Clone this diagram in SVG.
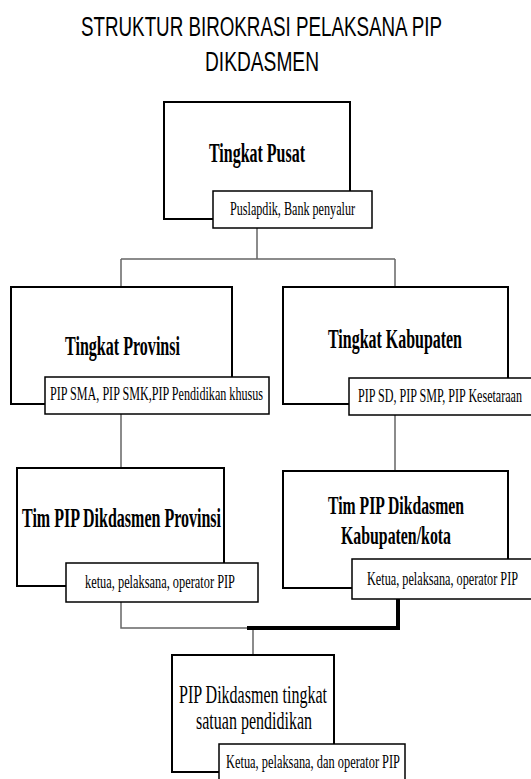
<svg xmlns="http://www.w3.org/2000/svg" width="531" height="779" viewBox="0 0 531 779">
<style>
.bg{fill:#fff}
.box{fill:#fff;stroke:#000;stroke-width:2}
.sub{fill:#fff;stroke:#000;stroke-width:1.5}
.con{fill:none;stroke:#666;stroke-width:1.5}
.thick{fill:none;stroke:#000;stroke-width:4}
.title{font-family:"Liberation Sans",Arial,sans-serif;font-size:27px;fill:#000}
.h{font-family:"Liberation Serif","Times New Roman",serif;font-size:28px;font-weight:bold;fill:#000}
.h2{font-family:"Liberation Serif","Times New Roman",serif;font-size:26px;font-weight:bold;fill:#000}
.hr{font-family:"Liberation Serif","Times New Roman",serif;font-size:26px;fill:#000}
.s{font-family:"Liberation Serif","Times New Roman",serif;font-size:18px;fill:#000}
</style>
<rect class="bg" x="0" y="0" width="531" height="779"/>
<g id="title">
<text class="title" x="81" y="36" textLength="361" lengthAdjust="spacingAndGlyphs">STRUKTUR BIROKRASI PELAKSANA PIP</text>
<text class="title" x="205" y="71" textLength="114" lengthAdjust="spacingAndGlyphs">DIKDASMEN</text>
</g>
<g id="connectors">
<path class="con" d="M257 228V259M121 259H395M121 259V287M395 259V287"/>
<path class="con" d="M121 414V468M395 415V471"/>
<path class="con" d="M121 602V628H249M253 628V655"/>
<path class="thick" d="M247 628H398V598"/>
</g>
<g id="pusat">
<rect class="box" x="164" y="102" width="186" height="117"/>
<text class="h" x="209" y="162" textLength="96" lengthAdjust="spacingAndGlyphs">Tingkat Pusat</text>
<rect class="sub" x="213" y="191" width="159" height="37"/>
<text class="s" x="230" y="215" textLength="125" lengthAdjust="spacingAndGlyphs">Puslapdik, Bank penyalur</text>
</g>
<g id="provinsi">
<rect class="box" x="11" y="287" width="221" height="117"/>
<text class="h" x="65" y="355" textLength="115" lengthAdjust="spacingAndGlyphs">Tingkat Provinsi</text>
<rect class="sub" x="45" y="377" width="224" height="37"/>
<text class="s" x="50" y="400" textLength="213" lengthAdjust="spacingAndGlyphs">PIP SMA, PIP SMK,PIP Pendidikan khusus</text>
</g>
<g id="kabupaten">
<rect class="box" x="283" y="287" width="225" height="117"/>
<text class="h" x="328" y="348" textLength="134" lengthAdjust="spacingAndGlyphs">Tingkat Kabupaten</text>
<rect class="sub" x="349" y="378" width="190" height="37"/>
<text class="s" x="358" y="402" textLength="164" lengthAdjust="spacingAndGlyphs">PIP SD, PIP SMP, PIP Kesetaraan</text>
</g>
<g id="tim-provinsi">
<rect class="box" x="17" y="468" width="207" height="118"/>
<text class="h" x="22" y="527" textLength="199" lengthAdjust="spacingAndGlyphs">Tim PIP Dikdasmen  Provinsi</text>
<rect class="sub" x="66" y="563" width="192" height="39"/>
<text class="s" x="85" y="588" textLength="150" lengthAdjust="spacingAndGlyphs">ketua, pelaksana, operator PIP</text>
</g>
<g id="tim-kabupaten">
<rect class="box" x="283" y="471" width="225" height="117"/>
<text class="h2" x="328" y="514" textLength="136" lengthAdjust="spacingAndGlyphs">Tim PIP Dikdasmen</text>
<text class="h2" x="341" y="544" textLength="110" lengthAdjust="spacingAndGlyphs">Kabupaten/kota</text>
<rect class="sub" x="352" y="559" width="190" height="40"/>
<text class="s" x="367" y="585" textLength="151" lengthAdjust="spacingAndGlyphs">Ketua, pelaksana, operator PIP</text>
</g>
<g id="satuan-pendidikan">
<rect class="box" x="172" y="655" width="162" height="117"/>
<text class="hr" x="179" y="703" textLength="148" lengthAdjust="spacingAndGlyphs">PIP Dikdasmen  tingkat</text>
<text class="hr" x="196" y="729" textLength="116" lengthAdjust="spacingAndGlyphs">satuan pendidikan</text>
<rect class="sub" x="219" y="744" width="186" height="42"/>
<text class="s" x="226" y="768" textLength="174" lengthAdjust="spacingAndGlyphs">Ketua, pelaksana, dan operator PIP</text>
</g>
</svg>
